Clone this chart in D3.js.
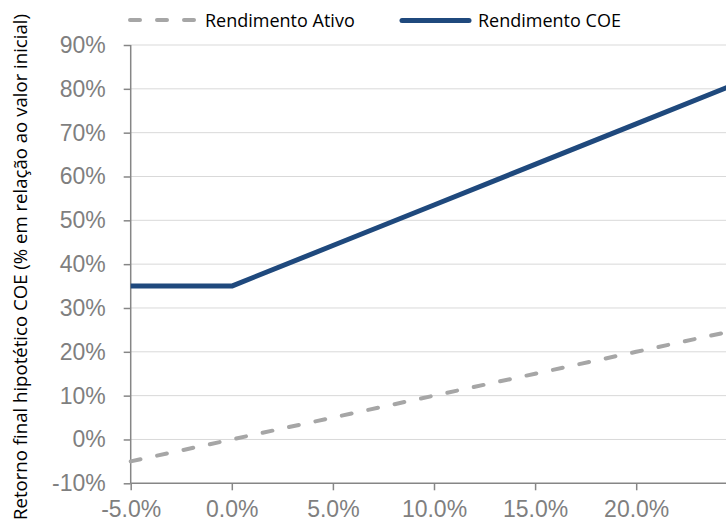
<!DOCTYPE html>
<html>
<head>
<meta charset="utf-8">
<script src="https://cdn.jsdelivr.net/npm/d3@7"></script>
<style>
  body { margin: 0; background: #fff; }
  svg { display: block; font-family: "Open Sans", sans-serif; }
  .grid line { stroke: #d9d9d9; stroke-width: 1; }
  .axis path, .axis line { stroke: #868686; stroke-width: 1.5; }
  .axis text { fill: #7f7f7f; font-size: 23px; }
</style>
</head>
<body>
<div id="chart"></div>
<script>
  // Chart data (percent)
  const xValues = [-5, 0, 5, 10, 15, 20, 25];
  const ativoValues = [-5, 0, 5, 10, 15, 20, 25];
  const coeValues = [35, 35, 44.25, 53.5, 62.75, 72, 81.25];
  const xTicks = [-5, 0, 5, 10, 15, 20];
  const yTicks = [-10, 0, 10, 20, 30, 40, 50, 60, 70, 80, 90];
  const seriesNames = ["Rendimento Ativo", "Rendimento COE"];

  const width = 726;
  const height = 521;
  const plotLeft = 130.7;
  const plotTop = 45;
  const plotBottom = 483.3;

  const svg = d3.select("#chart")
    .append("svg")
    .attr("width", width)
    .attr("height", height);

  const x = d3.scaleLinear().domain([-5, 25]).range([plotLeft, plotLeft + 6 * 101.1]);
  const y = d3.scaleLinear().domain([-10, 90]).range([plotBottom, plotTop]);

  // Gridlines
  svg.append("g")
    .attr("class", "grid")
    .selectAll("line")
    .data(yTicks.filter(d => d > -10))
    .join("line")
    .attr("x1", plotLeft)
    .attr("x2", width)
    .attr("y1", d => y(d))
    .attr("y2", d => y(d));

  // Axes
  const yAxis = svg.append("g")
    .attr("class", "axis")
    .attr("transform", `translate(${plotLeft},0)`)
    .call(d3.axisLeft(y).tickValues(yTicks).tickSize(7).tickPadding(18)
      .tickFormat(d => d + "%").tickSizeOuter(0));

  const xAxis = svg.append("g")
    .attr("class", "axis")
    .attr("transform", `translate(0,${plotBottom})`)
    .call(d3.axisBottom(x).tickValues(xTicks).tickSize(7).tickPadding(10)
      .tickFormat(d => d.toFixed(1) + "%").tickSizeOuter(0));

  yAxis.select(".domain").attr("d", `M0,${plotTop}V${plotBottom}`);
  xAxis.select(".domain").attr("d", `M${plotLeft},0H${width}`);

  // Lines
  const line = d3.line()
    .x((d, i) => x(xValues[i]))
    .y(d => y(d));

  svg.append("path")
    .datum(ativoValues)
    .attr("fill", "none")
    .attr("stroke", "#a6a6a6")
    .attr("stroke-width", 4)
    .attr("stroke-linecap", "round")
    .attr("stroke-dasharray", "10,17")
    .attr("d", line);

  svg.append("path")
    .datum(coeValues)
    .attr("fill", "none")
    .attr("stroke", "#1f497d")
    .attr("stroke-width", 5)
    .attr("stroke-linejoin", "round")
    .attr("d", line);

  // Legend
  const legend = svg.append("g").attr("class", "legend");

  legend.append("line")
    .attr("x1", 130).attr("x2", 198).attr("y1", 20).attr("y2", 20)
    .attr("stroke", "#a6a6a6")
    .attr("stroke-width", 4)
    .attr("stroke-linecap", "round")
    .attr("stroke-dasharray", "10,17");

  legend.append("text")
    .attr("x", 205).attr("y", 26.5)
    .style("font-size", "18px")
    .attr("fill", "#000")
    .text(seriesNames[0]);

  legend.append("line")
    .attr("x1", 402).attr("x2", 469).attr("y1", 20.5).attr("y2", 20.5)
    .attr("stroke", "#1f497d")
    .attr("stroke-width", 5)
    .attr("stroke-linecap", "round");

  legend.append("text")
    .attr("x", 478).attr("y", 26.5)
    .style("font-size", "18px")
    .attr("fill", "#000")
    .text(seriesNames[1]);

  // Y axis title
  svg.append("text")
    .attr("transform", "translate(27,267) rotate(-90)")
    .attr("text-anchor", "middle")
    .style("font-size", "18.6px")
    .attr("fill", "#000")
    .text("Retorno final hipotético COE (% em relação ao valor inicial)");
</script>
</body>
</html>
